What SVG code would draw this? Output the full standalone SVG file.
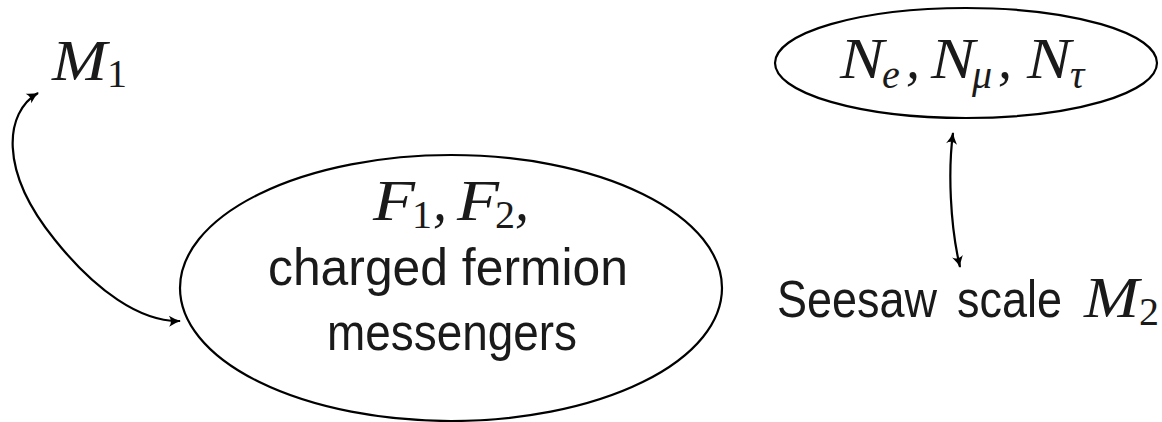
<svg xmlns="http://www.w3.org/2000/svg" width="1162" height="422" viewBox="0 0 1162 422">
  <style>
    .shape { fill: none; stroke: #000; stroke-width: 2.2; }
    .link { fill: none; stroke: #000; stroke-width: 2.2; marker-start: url(#head); marker-end: url(#head); }
    .math { font-family: "Liberation Serif", serif; font-style: italic; font-size: 56px; fill: #1a1a1a; }
    .idx { font-family: "Liberation Serif", serif; font-size: 40px; fill: #1a1a1a; }
    .idx-i { font-family: "Liberation Serif", serif; font-style: italic; font-size: 40px; fill: #1a1a1a; }
    .label { font-family: "Liberation Sans", sans-serif; font-size: 52px; fill: #1a1a1a; }
  </style>
  <defs>
    <marker id="head" viewBox="0 0 14 14" refX="12" refY="7" markerWidth="14" markerHeight="14" markerUnits="userSpaceOnUse" orient="auto-start-reverse">
      <path d="M1,1.5 Q7,5.5 13,7 Q7,8.5 1,12.5 Q5,7 1,1.5 Z" fill="#000"/>
    </marker>
  </defs>

  <g id="connectors">
    <path class="link" d="M38,93 C5,112 -2,170 55,240 C95,290 140,322 180,321"/>
    <path class="link" d="M953,133 C948,170 950,225 960,267"/>
  </g>

  <g id="node-m1">
    <text class="math" x="52" y="80" textLength="55" lengthAdjust="spacingAndGlyphs">M</text>
    <text class="idx" x="107" y="87">1</text>
  </g>

  <g id="node-messengers">
    <ellipse class="shape" cx="451" cy="288" rx="271" ry="133"/>
    <text class="math" x="373" y="220" textLength="42" lengthAdjust="spacingAndGlyphs">F</text>
    <text class="idx" x="412" y="228">1</text>
    <text class="math" x="433" y="220">,</text>
    <text class="math" x="457" y="220" textLength="42" lengthAdjust="spacingAndGlyphs">F</text>
    <text class="idx" x="495" y="228">2</text>
    <text class="math" x="515" y="220">,</text>
    <text class="label" x="268" y="285" textLength="360" lengthAdjust="spacingAndGlyphs">charged fermion</text>
    <text class="label" x="327" y="350" textLength="250" lengthAdjust="spacingAndGlyphs">messengers</text>
  </g>

  <g id="node-neutrinos">
    <ellipse class="shape" cx="966" cy="63" rx="191" ry="55"/>
    <text class="math" x="840" y="78" textLength="44" lengthAdjust="spacingAndGlyphs">N</text>
    <text class="idx-i" x="882" y="88">e</text>
    <text class="math" x="906" y="78">,</text>
    <text class="math" x="931" y="78" textLength="44" lengthAdjust="spacingAndGlyphs">N</text>
    <text class="idx-i" x="972" y="88">μ</text>
    <text class="math" x="998" y="78">,</text>
    <text class="math" x="1027" y="78" textLength="44" lengthAdjust="spacingAndGlyphs">N</text>
    <text class="idx-i" x="1070" y="88">τ</text>
  </g>

  <g id="node-seesaw">
    <text class="label" x="777" y="317" textLength="160" lengthAdjust="spacingAndGlyphs">Seesaw</text>
    <text class="label" x="957" y="317" textLength="105" lengthAdjust="spacingAndGlyphs">scale</text>
    <text class="math" x="1084" y="317" textLength="55" lengthAdjust="spacingAndGlyphs">M</text>
    <text class="idx" x="1139" y="325">2</text>
  </g>
</svg>
